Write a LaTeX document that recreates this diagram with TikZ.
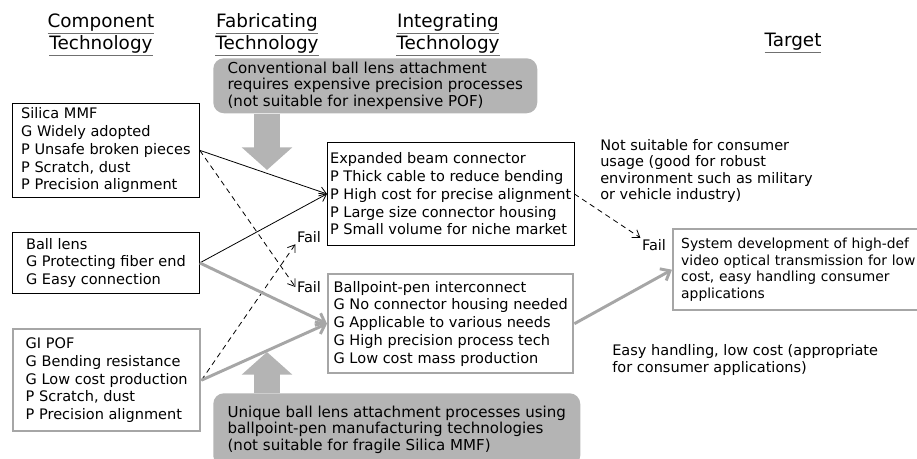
\documentclass[tikz,border=0pt]{standalone}
\usepackage{fontspec}
\setmainfont{DejaVu Sans}
\usetikzlibrary{arrows.meta}
\definecolor{notegray}{HTML}{B4B4B4}
\definecolor{linegray}{HTML}{A6A6A6}
\definecolor{ulgray}{HTML}{707070}
\newcommand{\hdul}[1]{\textcolor{ulgray}{\underline{\textcolor{black}{#1}}}}

\begin{document}
\begin{tikzpicture}[
    x=0.75pt, y=-0.75pt,
    txt/.style={font=\fontsize{10.9}{13.3}\selectfont},
    box/.style={rectangle, draw, line width=0.6pt, align=left, anchor=north west, inner xsep=2pt, txt},
    graybox/.style={box, draw=linegray, line width=1.8pt},
    note/.style={rectangle, fill=notegray, rounded corners=8pt, align=left, anchor=north west, inner ysep=1.5pt, font=\fontsize{11.3}{12.4}\selectfont},
    head/.style={align=center, font=\fontsize{13.8}{13}\selectfont},
    lbl/.style={align=left, anchor=west, inner sep=0pt, font=\fontsize{10.9}{12.3}\selectfont},
    fail/.style={inner sep=1pt, txt},
    arr/.style={-{Straight Barb[length=5pt, width=7pt]}, line width=0.6pt},
    darr/.style={arr, dash pattern=on 4pt off 3pt},
    garr/.style={-{Straight Barb[length=6pt, width=10pt]}, line width=2.2pt, linegray},
    bigarr/.style={-{Triangle[length=17pt, width=37pt]}, line width=20pt, notegray}
]
\useasboundingbox (0,0) rectangle (917,458);

% column heads
\node[head] (hcomp) at (101,35) {\hdul{Component}\\\hdul{Technology}};
\node[head] (hfab) at (267,35) {\hdul{Fabricating}\\\hdul{Technology}};
\node[head] (hint) at (448,35) {\hdul{Integrating}\\\hdul{Technology}};
\node[head] (htarget) at (793,43) {\hdul{Target}};

% component boxes
\node[box, minimum width=140.25pt, minimum height=69.75pt] (silica) at (12,103) {Silica MMF\\G Widely adopted\\P Unsafe broken pieces\\P Scratch, dust\\P Precision alignment};
\node[box, minimum width=140.25pt, minimum height=45.75pt] (ball) at (12,232) {Ball lens\\G Protecting fiber end\\G Easy connection};
\node[graybox, minimum width=140.25pt, minimum height=76.5pt] (gipof) at (12,328) {GI POF\\G Bending resistance\\G Low cost production\\P Scratch, dust\\P Precision alignment};

% integrating boxes
\node[box, minimum width=181.5pt, minimum height=77.25pt] (expanded) at (327,142) {Expanded beam connector\\P Thick cable to reduce bending\\P High cost for precise alignment\\P Large size connector housing\\P Small volume for niche market};
\node[graybox, minimum width=183.75pt, minimum height=74.25pt] (ballpt) at (327,273) {Ballpoint-pen interconnect\\G No connector housing needed\\G Applicable to various needs\\G High precision process tech\\G Low cost mass production};

% target
\node[graybox, text width=200pt, inner xsep=6pt, minimum height=60.75pt, font=\fontsize{10.4}{12.5}\selectfont] (target) at (672,228) {System development of high-def\\video optical transmission for low\\cost, easy handling consumer\\applications};

% fabricating notes
\node[note, minimum width=243pt, minimum height=41.25pt] (topnote) at (213,58) {Conventional ball lens attachment\\requires expensive precision processes\\(not suitable for inexpensive POF)};
\node[note, minimum width=275.25pt, minimum height=54.75pt] (botnote) at (213,393) {Unique ball lens attachment processes using\\ballpoint-pen manufacturing technologies\\(not suitable for fragile Silica MMF)};

\node[lbl] (notsuit) at (600,171) {Not suitable for consumer\\usage (good for robust\\environment such as military\\or vehicle industry)};
\node[lbl] (easy) at (612,360) {Easy handling, low cost (appropriate\\for consumer applications)};

\node[fail] (fail1) at (309,237) {Fail};
\node[fail] (fail2) at (309,287) {Fail};
\node[fail] (fail3) at (654,245) {Fail};

% big arrows from the notes
\coordinate (toptip) at (267,170);
\coordinate (bottip) at (267,352);
\draw[bigarr] (topnote.south -| toptip) -- (toptip);
\draw[bigarr] (botnote.north -| bottip) -- (bottip);

\draw[arr] (silica.east) -- (expanded.west);
\draw[arr] (ball.east) -- (expanded.west);
\draw[darr] (silica.east) -- (fail2.west);
\draw[darr] (gipof.east) -- (fail1.south west);
\draw[darr] (expanded.east) -- (fail3.north west);

\draw[garr] (ball.east) -- (ballpt.west);
\draw[garr] (gipof.east) -- (ballpt.west);
\draw[garr] (ballpt.east) -- (target.west);
\end{tikzpicture}
\end{document}
